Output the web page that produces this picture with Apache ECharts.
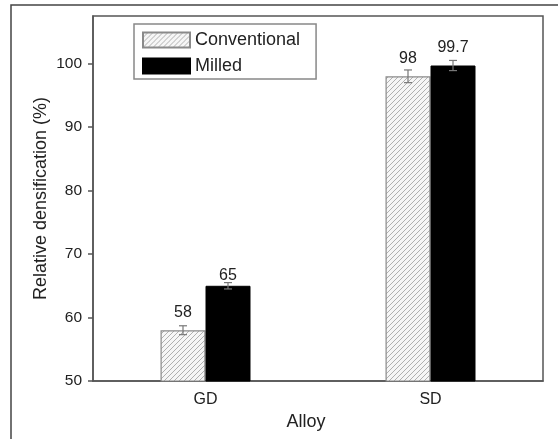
<!DOCTYPE html>
<html><head><meta charset="utf-8">
<script src="https://cdn.jsdelivr.net/npm/echarts@6/dist/echarts.min.js"></script>
<style>html,body{margin:0;padding:0;background:#fff}#c{width:558px;height:439px}</style>
</head><body><div id="c"></div>
<script>
var categories = ['GD', 'SD'];
var conventional = [58, 98];
var milled = [65, 99.7];
var conventionalErr = [0.7, 1.0];
var milledErr = [0.5, 0.8];
var yTicks = [50, 60, 70, 80, 90, 100];

var pc = document.createElement('canvas');
pc.width = 5; pc.height = 5;
var g = pc.getContext('2d');
g.fillStyle = '#f6f6f6'; g.fillRect(0,0,5,5);
g.strokeStyle = '#b0b0b0'; g.lineWidth = 1;
g.beginPath();
g.moveTo(-1,6); g.lineTo(6,-1);
g.moveTo(-1,1); g.lineTo(1,-1);
g.moveTo(4,6); g.lineTo(6,4);
g.stroke();

var font = 'Liberation Sans, Arial, sans-serif';
var chart = echarts.init(document.getElementById('c'), null, {renderer:'canvas'});

function errSeries(vals, errs, sign) {
  return {
    type: 'custom', silent: true, z: 5,
    data: vals.map(function(v,i){ return [i, v, errs[i]]; }),
    renderItem: function(params, api) {
      var i = api.value(0), v = api.value(1), e = api.value(2);
      var bw = api.size([1,0])[0];
      var hi = api.coord([i, v+e]), lo = api.coord([i, v-e]);
      var x = hi[0] + sign*0.1*bw;
      var cw = 4;
      var st = {stroke:'#777', lineWidth:1.2};
      return {type:'group', children:[
        {type:'line', shape:{x1:x,y1:hi[1],x2:x,y2:lo[1]}, style:st},
        {type:'line', shape:{x1:x-cw,y1:hi[1],x2:x+cw,y2:hi[1]}, style:st},
        {type:'line', shape:{x1:x-cw,y1:lo[1],x2:x+cw,y2:lo[1]}, style:st}
      ]};
    }
  };
}

// label offsets (style only) per bar
var convLabelDist = [10, 10];
var milledLabelDist = [2, 10];

chart.setOption({
  animation: false,
  textStyle: {fontFamily: font},
  graphic: [{type:'rect', shape:{x:11, y:5, width:600, height:500}, style:{fill:'none', stroke:'#444', lineWidth:1.5}, z:-1}],
  grid: {left: 93, right: 15, top: 16, bottom: 58, show: true, borderColor: '#555', borderWidth: 1.5, backgroundColor:'transparent'},
  legend: {
    orient: 'vertical', left: 134, top: 24,
    data: ['Conventional', 'Milled'],
    icon: 'rect',
    itemWidth: 47, itemHeight: 15, itemGap: 8,
    padding: [7, 16, 4, 8],
    borderColor: '#888', borderWidth: 1.5,
    textStyle: {fontSize: 18, lineHeight: 15, color: '#222', fontFamily: font}
  },
  xAxis: {
    type: 'category', data: categories,
    name: 'Alloy', nameLocation: 'middle', nameGap: 31,
    nameTextStyle: {fontSize: 18, color: '#222', padding: [0, 24, 0, 0]},
    axisLine: {lineStyle: {color: '#555', width: 1.5}},
    axisTick: {show: false},
    axisLabel: {fontSize: 16, color: '#222', margin: 11}
  },
  yAxis: {
    type: 'value', min: 50, max: 107.5, interval: 10,
    name: 'Relative densification (%)', nameLocation: 'middle', nameGap: 43,
    nameMoveOverlap: false,
    nameTextStyle: {fontSize: 18, color: '#222'},
    axisLine: {show: true, lineStyle: {color: '#555', width: 1.5}},
    axisTick: {show: true, length: 5, lineStyle: {color: '#555', width: 1.5}},
    axisLabel: {fontSize: 15.5, color: '#222', margin: 11, showMaxLabel: false,
      formatter: function(v){ return yTicks.indexOf(v) >= 0 ? String(v) : ''; }},
    splitLine: {show: false}
  },
  series: [
    {name: 'Conventional', type: 'bar', barGap: '0%', barCategoryGap: '60%',
     data: conventional.map(function(v,i){ return {value: v, label: {distance: convLabelDist[i]}}; }),
     itemStyle: {color: {image: pc, repeat: 'repeat'}, borderColor: '#8a8a8a', borderWidth: 1.2},
     label: {show: true, position: 'top', fontSize: 16, color: '#222'}},
    {name: 'Milled', type: 'bar',
     data: milled.map(function(v,i){ return {value: v, label: {distance: milledLabelDist[i]}}; }),
     itemStyle: {color: '#000', borderColor: '#000', borderWidth: 1},
     label: {show: true, position: 'top', fontSize: 16, color: '#222'}},
    errSeries(conventional, conventionalErr, -1),
    errSeries(milled, milledErr, 1)
  ]
});
</script></body></html>
